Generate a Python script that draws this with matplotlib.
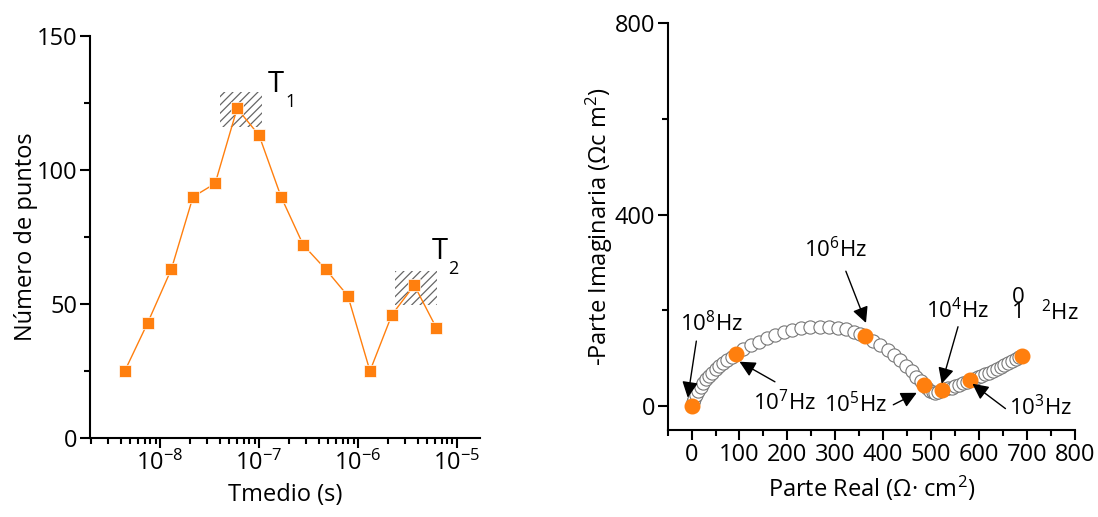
import numpy as np
import matplotlib
matplotlib.use("Agg")
import matplotlib.pyplot as plt
from matplotlib.patches import Rectangle
from matplotlib.ticker import LogLocator, LogFormatterMathtext, MultipleLocator, NullFormatter

plt.rcParams['font.family'] = ['Open Sans', 'DejaVu Sans']
plt.rcParams['mathtext.fontset'] = 'custom'
plt.rcParams['mathtext.rm'] = 'Open Sans'
plt.rcParams['mathtext.it'] = 'Open Sans'
plt.rcParams['mathtext.default'] = 'regular'
plt.rcParams['hatch.linewidth'] = 0.9

# left panel: histogram of mean times
tmedio = [4.4e-9, 7.5e-9, 1.3e-8, 2.15e-8, 3.6e-8, 6.0e-8, 1.0e-7, 1.67e-7,
          2.8e-7, 4.7e-7, 7.9e-7, 1.32e-6, 2.2e-6, 3.7e-6, 6.2e-6]
n_puntos = [25, 43, 63, 90, 95, 123, 113, 90, 72, 63, 53, 25, 46, 57, 41]

# shaded regions around T1 and T2 (x0, x1, y0, y1)
t1_box = [4.04e-8, 1.07e-7, 116, 129]
t2_box = [2.37e-6, 6.28e-6, 49.5, 62.5]

# right panel: Nyquist plot
z_real = [0, 3, 6, 10, 14, 19, 24, 30, 36, 43, 50, 58, 66, 75, 84, 93,
          108, 124, 140, 157, 174, 192, 210, 229, 248, 267, 286, 305, 323, 339, 352, 362,
          378, 394, 409, 423, 436, 448, 459, 469, 478, 486,
          491, 497, 503, 509, 515, 522,
          529, 536, 543, 550, 558, 566, 574, 581, 589, 597, 605, 613, 621, 629,
          637, 645, 653, 661, 669, 677, 684, 690]
z_imag = [0, 8, 16, 24, 32, 40, 48, 56, 63, 70, 77, 84, 90, 96, 103, 110,
          119, 127, 135, 142, 148, 154, 159, 163, 165, 166, 166, 164, 161, 156, 151, 146,
          137, 128, 118, 107, 96, 84, 73, 62, 52, 44,
          37, 32, 29, 28, 29, 33,
          35, 37, 39, 42, 45, 48, 51, 54, 57, 60, 63, 67, 70, 74,
          78, 82, 86, 90, 94, 98, 102, 105]

freq_real = [0, 93, 362, 486, 522, 581, 690]
freq_imag = [0, 110, 146, 44, 33, 55, 105]

orange = '#ff7f0e'
fs = 17

fig = plt.figure(figsize=(10.98, 5.17), dpi=100)

# ---------------- left ----------------
ax1 = fig.add_axes([0.082, 0.153, 0.355, 0.777])
ax1.semilogx(tmedio, n_puntos, color=orange, lw=1, marker='s', ms=8,
             mfc=orange, mec='white', mew=0.5, zorder=3)
for b in (t1_box, t2_box):
    ax1.add_patch(Rectangle((b[0], b[2]), b[1] - b[0], b[3] - b[2], facecolor='none',
                            edgecolor='#666666', hatch='////', lw=0, zorder=2))
ax1.set_xlim(1.96e-9, 1.7e-5)
ax1.set_ylim(0, 150)
ax1.xaxis.set_major_locator(LogLocator(base=10, subs=(1.0,), numticks=10))
ax1.xaxis.set_major_formatter(LogFormatterMathtext())
ax1.xaxis.set_minor_locator(LogLocator(base=10, subs=np.arange(2, 10), numticks=10))
ax1.xaxis.set_minor_formatter(NullFormatter())
ax1.yaxis.set_major_locator(MultipleLocator(50))
ax1.yaxis.set_minor_locator(MultipleLocator(25))
ax1.set_xlabel('Tmedio (s)', fontsize=fs, labelpad=5)
ax1.set_ylabel('Número de puntos', fontsize=fs, labelpad=-1)
ax1.text(1.23e-7, 132, 'T', fontsize=21, va='center', ha='left')
ax1.text(1.85e-7, 125.5, '1', fontsize=13, va='center', ha='left')
ax1.text(5.58e-6, 69.5, 'T', fontsize=21, va='center', ha='left')
ax1.text(8.2e-6, 63, '2', fontsize=13, va='center', ha='left')

# ---------------- right ----------------
ax2 = fig.add_axes([0.608, 0.168, 0.371, 0.787])
ax2.plot(z_real, z_imag, ls='none', marker='o', ms=9.5, mfc='white',
         mec='#777777', mew=0.8, zorder=2)
ax2.plot(freq_real, freq_imag, ls='none', marker='o', ms=10.5, mfc=orange,
         mec=orange, zorder=3)
ax2.set_xlim(-50, 800)
ax2.set_ylim(-50, 800)
ax2.xaxis.set_major_locator(MultipleLocator(100))
ax2.xaxis.set_minor_locator(MultipleLocator(50))
ax2.yaxis.set_major_locator(MultipleLocator(400))
ax2.yaxis.set_minor_locator(MultipleLocator(200))
ax2.set_xlabel('Parte Real (Ω· cm$^2$)', fontsize=fs, labelpad=5)
ax2.set_ylabel('-Parte Imaginaria (Ωc m$^2$)', fontsize=fs, labelpad=0)

arrow = dict(arrowstyle='-|>', color='k', lw=1, mutation_scale=24, shrinkA=0, shrinkB=0)
ann = [('10$^8$Hz', (42, 172), (10, 136), (-8, 18)),
       ('10$^7$Hz', (194, 8), (174, 51), (100, 93)),
       ('10$^6$Hz', (301, 328), (322, 282), (364, 174)),
       ('10$^5$Hz', (343, 4), (421, 3), (470, 28)),
       ('10$^4$Hz', (556, 200), (556, 166), (522, 47)),
       ('10$^3$Hz', (728, -2), (655, -5), (586, 47))]
for lab, txt, tail, head in ann:
    ax2.text(txt[0], txt[1], lab, fontsize=16, ha='center', va='center')
    ax2.annotate('', xy=head, xytext=tail, arrowprops=arrow)
# garbled 10^2 Hz label as in the original
ax2.text(682, 228, '0', fontsize=16, ha='center', va='center')
ax2.text(682, 195, '1', fontsize=16, ha='center', va='center')
ax2.text(768, 196, '$^2$Hz', fontsize=16, ha='center', va='center')

for ax in (ax1, ax2):
    ax.spines['top'].set_visible(False)
    ax.spines['right'].set_visible(False)
    ax.spines['left'].set_linewidth(1.5)
    ax.spines['bottom'].set_linewidth(1.5)
    ax.tick_params(which='major', direction='out', length=7, width=1.5, labelsize=fs, pad=2)
    ax.tick_params(which='minor', direction='out', length=4, width=1.5)

fig.savefig('out.png', dpi=100)
